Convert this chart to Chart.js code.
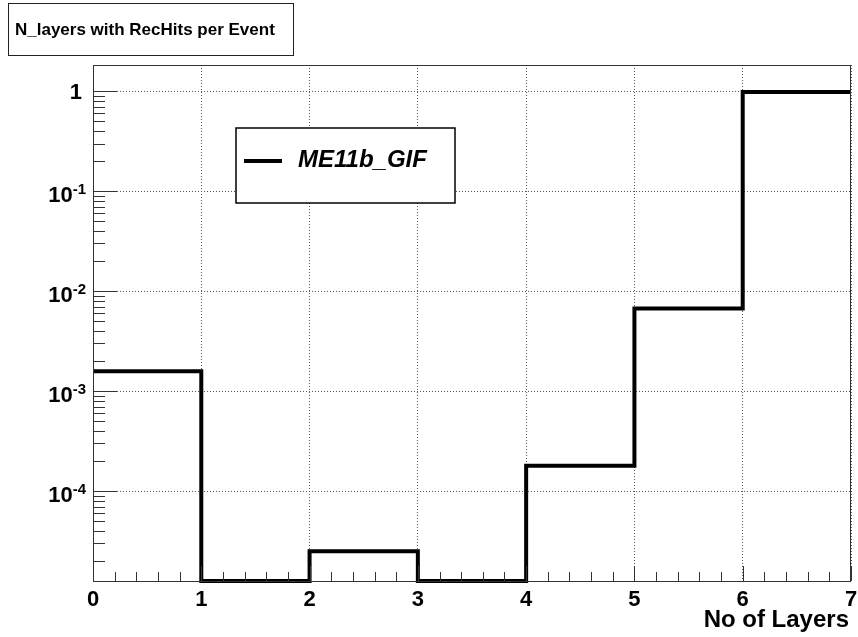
<!DOCTYPE html>
<html>
<head>
<meta charset="utf-8">
<script src="https://cdn.jsdelivr.net/npm/chart.js@4.4.0/dist/chart.umd.min.js"></script>
<style>
  html, body { margin: 0; padding: 0; background: #fff; }
</style>
</head>
<body>
<canvas id="myChartLayers" width="858" height="637"></canvas>
<script>
// histogram bins: lower edges and contents (normalised)
const binEdges = [0, 1, 2, 3, 4, 5, 6, 7];
const binValues = [1.58e-3, 0, 2.5e-5, 0, 1.79e-4, 6.7e-3, 0.98];
const xTicks = [0, 1, 2, 3, 4, 5, 6, 7];
const yTicks = [1e-4, 1e-3, 1e-2, 1e-1, 1];
const yTickExp = [-4, -3, -2, -1, 0];
const seriesName = 'ME11b_GIF';
const titleText = 'N_layers with RecHits per Event';
const xTitle = 'No of Layers';
const yMin = 1.26e-5;
const yMax = 1.83;

const FONT = "'Liberation Sans', Arial, Helvetica, sans-serif";

// step points: one per bin edge, last bin repeated to close at x=7
const points = binEdges.map((x, i) => ({
  x: x,
  y: Math.max(binValues[Math.min(i, binValues.length - 1)], yMin)
}));

const rootStyle = {
  id: 'rootStyle',
  afterDraw(chart) {
    const ctx = chart.ctx;
    const a = chart.chartArea;
    const xs = chart.scales.x;
    const ys = chart.scales.y;
    ctx.save();

    // frame
    ctx.strokeStyle = '#333';
    ctx.lineWidth = 1;
    ctx.strokeRect(a.left + 0.5, a.top + 0.5, a.right - a.left - 1, a.bottom - a.top);

    // x ticks (inside), major every 1, minor every 0.2
    ctx.beginPath();
    for (let k = 0; k <= 35; k++) {
      const v = k / 5;
      const px = Math.round(xs.getPixelForValue(v)) + 0.5;
      const len = (k % 5 === 0) ? 15 : 9;
      ctx.moveTo(px, a.bottom);
      ctx.lineTo(px, a.bottom - len);
    }
    // y ticks (inside), decades and 2..9 minors
    for (let e = -5; e <= 0; e++) {
      for (let m = 1; m <= 9; m++) {
        const v = m * Math.pow(10, e);
        if (v < yMin || v > yMax) continue;
        const py = Math.round(ys.getPixelForValue(v)) + 0.5;
        const len = (m === 1) ? 24 : 12;
        ctx.moveTo(a.left, py);
        ctx.lineTo(a.left + len, py);
      }
    }
    ctx.stroke();

    // x tick labels
    ctx.fillStyle = '#000';
    ctx.font = 'bold 22px ' + FONT;
    ctx.textAlign = 'center';
    ctx.textBaseline = 'alphabetic';
    xTicks.forEach(v => {
      ctx.fillText(String(v), xs.getPixelForValue(v), a.bottom + 25);
    });

    // y tick labels 10^n
    yTicks.forEach((v, i) => {
      const py = ys.getPixelForValue(v);
      const n = yTickExp[i];
      if (n === 0) {
        ctx.font = 'bold 22px ' + FONT;
        ctx.textAlign = 'right';
        ctx.fillText('1', 82, py + 8);
        return;
      }
      const sup = String(n);
      ctx.font = 'bold 15px ' + FONT;
      const supW = ctx.measureText(sup).width;
      ctx.textAlign = 'right';
      ctx.fillText(sup, 86, py + 3);
      ctx.font = 'bold 22px ' + FONT;
      ctx.fillText('10', 86 - supW, py + 11);
    });

    // x axis title
    ctx.font = 'bold 24px ' + FONT;
    ctx.textAlign = 'right';
    ctx.fillText(xTitle, a.right - 2, 627);

    // legend box
    ctx.fillStyle = '#fff';
    ctx.fillRect(236, 128, 219, 75);
    ctx.strokeStyle = '#000';
    ctx.lineWidth = 1.5;
    ctx.strokeRect(236, 128, 219, 75);
    ctx.beginPath();
    ctx.lineWidth = 4;
    ctx.moveTo(244, 161);
    ctx.lineTo(282, 161);
    ctx.stroke();
    ctx.fillStyle = '#000';
    ctx.font = 'italic bold 24px ' + FONT;
    ctx.textAlign = 'left';
    ctx.fillText(seriesName, 298, 167);

    // title box
    ctx.fillStyle = '#fff';
    ctx.fillRect(8, 3, 285, 52);
    ctx.strokeStyle = '#222';
    ctx.lineWidth = 1;
    ctx.strokeRect(8.5, 3.5, 285, 52);
    ctx.fillStyle = '#000';
    ctx.font = 'bold 17px ' + FONT;
    ctx.fillText(titleText, 15, 35);

    ctx.restore();
  }
};

const gridOpts = {
  color: '#555',
  lineWidth: 1,
  drawTicks: false
};

const ctxL = document.getElementById('myChartLayers').getContext('2d');
const chartL = new Chart(ctxL, {
  type: 'line',
  data: {
    datasets: [{
      label: seriesName,
      data: points,
      stepped: true, // horizontal across each bin, then vertical at the edge
      borderColor: '#000',
      borderWidth: 4,
      pointRadius: 0,
      fill: false,
      clip: 6
    }]
  },
  options: {
    responsive: false,
    animation: false,
    layout: { padding: { left: 93, right: 7, top: 65, bottom: 56 } },
    plugins: {
      legend: { display: false },
      tooltip: { enabled: false }
    },
    scales: {
      x: {
        type: 'linear',
        min: 0,
        max: 7,
        ticks: { display: false, stepSize: 1 },
        grid: gridOpts,
        border: { display: false, dash: [1, 2] }
      },
      y: {
        type: 'logarithmic',
        min: yMin,
        max: yMax,
        afterBuildTicks: (s) => { s.ticks = yTicks.map(v => ({ value: v })); },
        ticks: { display: false },
        grid: gridOpts,
        border: { display: false, dash: [1, 2] }
      }
    }
  },
  plugins: [rootStyle]
});
</script>
</body>
</html>
